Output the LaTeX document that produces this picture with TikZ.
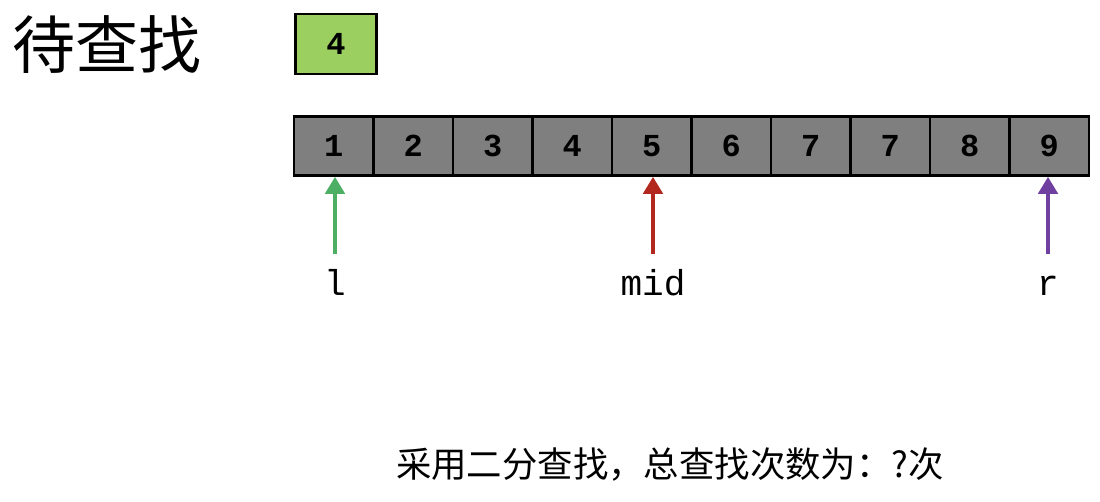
\documentclass[tikz,border=0pt]{standalone}
\usepackage{fontspec}
\setmonofont{Liberation Mono}
\newfontfamily\cjk{Noto Sans CJK SC}
\usetikzlibrary{arrows.meta}
\definecolor{cellgray}{RGB}{128,127,128}
\definecolor{keygreen}{RGB}{155,207,95}
\definecolor{lgreen}{RGB}{76,175,100}
\definecolor{mred}{RGB}{178,40,30}
\definecolor{rpurple}{RGB}{112,64,160}
\tikzset{
  cell/.style={draw=black, line width=2.5pt, fill=cellgray, minimum width=79.5pt, minimum height=59pt, inner sep=0pt, font=\ttfamily\bfseries\fontsize{32}{32}\selectfont},
  keybox/.style={draw=black, line width=2.5pt, fill=keygreen, minimum width=81pt, minimum height=60pt, inner sep=0pt, font=\ttfamily\bfseries\fontsize{32}{32}\selectfont},
  ptr/.style={line width=4.5pt, -{Triangle[width=19pt,length=17pt]}},
  lab/.style={font=\ttfamily\fontsize{36}{36}\selectfont, inner sep=0pt, anchor=base},
}
\begin{document}
\begin{tikzpicture}[x=1pt,y=-1pt]
\useasboundingbox (0,0) rectangle (1100,501);
\node[font=\cjk\fontsize{63}{63}\selectfont, anchor=west, inner sep=0pt] (title) at (12,45) {待查找};
\node[keybox] (key) at (336,44) {4};
\foreach \v [count=\i] in {1,2,3,4,5,6,7,7,8,9} {
  \node[cell] (c\i) at ({294+79.5*(\i-0.5)},146) {\v};
}
\coordinate (lb) at (335,254);
\coordinate (mb) at (653,254);
\coordinate (rb) at (1048,254);
\draw[ptr, lgreen] (lb) -- (lb |- c1.south);
\draw[ptr, mred] (mb) -- (mb |- c5.south);
\draw[ptr, rpurple] (rb) -- (rb |- c10.south);
\node[lab] (l) at (335,295) {l};
\node[lab] (mid) at (653,295) {mid};
\node[lab] (r) at (1048,295) {r};
\node[font=\cjk\fontsize{35.4}{35.4}\selectfont, inner sep=0pt] (q) at (670,465) {采用二分查找，总查找次数为：?次};
\end{tikzpicture}
\end{document}
